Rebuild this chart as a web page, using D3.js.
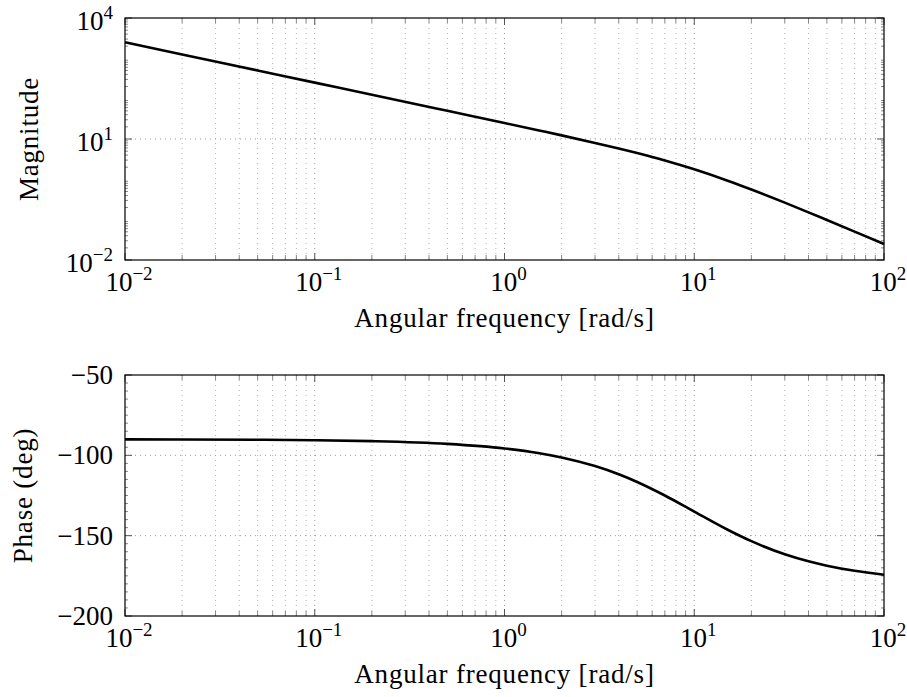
<!DOCTYPE html>
<html><head><meta charset="utf-8">
<script src="https://cdn.jsdelivr.net/npm/d3@7"></script>
</head><body style="margin:0;background:#fff">
<svg id="c" width="907" height="697" style="display:block;background:#fff"></svg>
<script>
const freq = [0.01,0.02,0.05,0.1,0.2,0.5,1,1.5,2,3,4,5,7,10,15,20,30,40,50,70,100];
const magnitude = [2500,1250,500,250,125,49.9,24.9,16.5,12.3,7.98,5.80,4.47,2.93,1.77,0.925,0.559,0.264,0.152,0.0981,0.0505,0.0249];
const phase = [-90.06,-90.11,-90.29,-90.57,-91.15,-92.86,-95.71,-98.53,-101.31,-106.70,-111.80,-116.57,-124.99,-135.0,-146.31,-153.43,-161.57,-165.96,-168.69,-171.87,-174.29];
const xTickExp = [-2,-1,0,1,2];
const magTickExp = [-2,1,4];
const phaseTicks = [-200,-150,-100,-50];
const xTitle = "Angular frequency [rad/s]";
const magTitle = "Magnitude";
const phaseTitle = "Phase (deg)";

const FONT = '"Liberation Serif"';
const svg = d3.select("#c");
const L = 125, R = 884;
const x = d3.scaleLog().domain([1e-2,1e2]).range([L,R]);

function minorLog(lo, hi){
  const a=[]; for(let e=lo;e<hi;e++){for(let m=2;m<=9;m++)a.push(m*Math.pow(10,e));} return a;
}
const xMinor = minorLog(-2,2);
const xMajor = xTickExp.map(e=>Math.pow(10,e));

function txt(g){ return g.append("text").style("font-family",FONT).attr("fill","#000"); }
function expLabel(sel, e){
  sel.append("tspan").text("10");
  sel.append("tspan").attr("font-size",19).attr("dy",-11).text(e<0?"\u2212"+(-e):String(e));
}

function panel(top, bot, y, yMajor, yMinor, yLabelFn, yLabDy, data, title, titleX){
  const g = svg.append("g");
  g.selectAll(null).data(xMinor).enter().append("line")
    .attr("x1",d=>x(d)).attr("x2",d=>x(d)).attr("y1",top).attr("y2",bot)
    .attr("stroke","#b4b4b4").attr("stroke-width",1).attr("stroke-dasharray","1,4");
  g.selectAll(null).data(xMajor.slice(1,-1)).enter().append("line")
    .attr("x1",d=>x(d)).attr("x2",d=>x(d)).attr("y1",top).attr("y2",bot)
    .attr("stroke","#999").attr("stroke-width",1).attr("stroke-dasharray","1,4");
  g.selectAll(null).data(yMajor.slice(1,-1)).enter().append("line")
    .attr("x1",L).attr("x2",R).attr("y1",d=>y(d)).attr("y2",d=>y(d))
    .attr("stroke","#999").attr("stroke-width",1).attr("stroke-dasharray","1,4");
  [top,bot].forEach((yy,i)=>{
    const s = i===0?1:-1;
    g.selectAll(null).data(xMinor).enter().append("line")
      .attr("x1",d=>x(d)).attr("x2",d=>x(d)).attr("y1",yy).attr("y2",yy+s*5)
      .attr("stroke","#888").attr("stroke-width",1);
    g.selectAll(null).data(xMajor).enter().append("line")
      .attr("x1",d=>x(d)).attr("x2",d=>x(d)).attr("y1",yy).attr("y2",yy+s*7)
      .attr("stroke","#555").attr("stroke-width",1);
  });
  [L,R].forEach((xx,i)=>{
    const s = i===0?1:-1;
    g.selectAll(null).data(yMinor).enter().append("line")
      .attr("x1",xx).attr("x2",xx+s*3).attr("y1",d=>y(d)).attr("y2",d=>y(d))
      .attr("stroke","#888").attr("stroke-width",1);
    g.selectAll(null).data(yMajor).enter().append("line")
      .attr("x1",xx).attr("x2",xx+s*7).attr("y1",d=>y(d)).attr("y2",d=>y(d))
      .attr("stroke","#555").attr("stroke-width",1);
  });
  const line = d3.line().x(d=>x(d[0])).y(d=>y(d[1])).curve(d3.curveMonotoneX);
  g.append("path").datum(freq.map((f,i)=>[f,data[i]])).attr("d",line)
    .attr("fill","none").attr("stroke","#000").attr("stroke-width",2.6).attr("stroke-linejoin","round");
  g.append("rect").attr("x",L).attr("y",top).attr("width",R-L).attr("height",bot-top)
    .attr("fill","none").attr("stroke","#000").attr("stroke-width",1.2);
  xTickExp.forEach(e=>{
    const t = txt(g).attr("x",x(Math.pow(10,e))+4).attr("y",bot+31).attr("font-size",27).attr("text-anchor","middle");
    expLabel(t,e);
  });
  txt(g).attr("x",(L+R)/2).attr("y",bot+67).attr("font-size",27).style("letter-spacing","0.8px").attr("text-anchor","middle").text(xTitle);
  yMajor.forEach(v=>{
    const t = txt(g).attr("x",113).attr("y",y(v)+yLabDy).attr("font-size",27).attr("text-anchor","end");
    yLabelFn(t,v);
  });
  txt(g).attr("transform",`translate(${titleX},${(top+bot)/2}) rotate(-90)`)
    .attr("font-size",27).style("letter-spacing","0.8px").attr("text-anchor","middle").text(title);
}

const yMag = d3.scaleLog().domain([1e-2,1e4]).range([260,18]);
const magMajor = magTickExp.map(e=>Math.pow(10,e));
panel(18,260,yMag,magMajor,minorLog(-2,4),(t,v)=>expLabel(t,Math.round(Math.log10(v))),12,magnitude,magTitle,38);

const yPh = d3.scaleLinear().domain([-200,-50]).range([616,375]);
const phMinor = d3.range(-200,-50,5).filter(v=>v%50!==0);
panel(375,616,yPh,phaseTicks,phMinor,(t,v)=>t.text(v<0?"\u2212"+(-v):String(v)),9,phase,phaseTitle,32);
</script>
</body></html>
